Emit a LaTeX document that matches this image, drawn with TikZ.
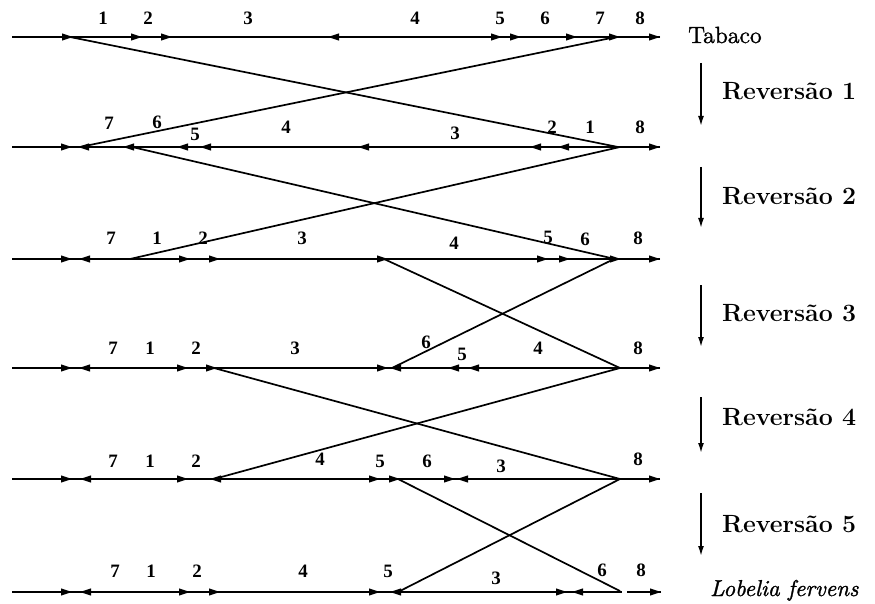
\documentclass[tikz,border=0pt]{standalone}
\usepackage{fontspec}
\newfontfamily\numfont{Liberation Serif}
\newfontfamily\heavyrm[FakeBold=1.2]{lmroman10-regular.otf}
\newfontfamily\heavyit[FakeBold=1.2]{lmroman10-italic.otf}
\usetikzlibrary{arrows.meta}
\tikzset{
  chrom/.style={line width=1.4bp},
  cross/.style={line width=1.7bp},
  num/.style={font=\numfont\bfseries\fontsize{19}{19}\selectfont, inner sep=0pt},
  rlab/.style={font=\fontsize{25}{28}\selectfont, anchor=base west, inner sep=0pt},
  rh/.pic={\fill (0,0) -- (-11,-3.6) -- (-11,3.6) -- cycle;},
  lh/.pic={\fill (0,0) -- (11,-3.6) -- (11,3.6) -- cycle;},
  revarrow/.style={line width=1.6bp, -{Latex[length=10bp,width=6bp]}}
}
\begin{document}
\begin{tikzpicture}[x=1bp,y=-1bp]
\useasboundingbox (0,0) rectangle (875,604);
% ---------- row 1 (Tabaco)
\coordinate (r1s) at (12,37); \coordinate (r1e) at (660,37);
\draw[chrom] (r1s) -- (r1e);
\foreach \x in {73,142,172,502,521,577,620,660} \pic at (\x,37) {rh};
\pic at (328,37) {lh};
\foreach \t/\x in {1/103,2/148,3/248,4/415,5/500,6/545,7/600,8/640}
  \node[num] (l1-\t) at (\x,18) {\t};
% ---------- row 2
\coordinate (r2s) at (12,147); \coordinate (r2e) at (660,147);
\draw[chrom] (r2s) -- (r2e);
\foreach \x in {72,660} \pic at (\x,147) {rh};
\foreach \x in {78,123,177,200,358,530,558} \pic at (\x,147) {lh};
\foreach \t/\x/\y in {7/109/123,6/157/122,5/195/134,4/286/127,3/455/133,2/552/127,1/590/127,8/640/127}
  \node[num] (l2-\t) at (\x,\y) {\t};
% ---------- row 3
\coordinate (r3s) at (12,259); \coordinate (r3e) at (660,259);
\draw[chrom] (r3s) -- (r3e);
\foreach \x in {72,190,220,388,548,570,621,660} \pic at (\x,259) {rh};
\pic at (79,259) {lh};
\foreach \t/\x/\y in {7/111/238,1/157/238,2/203/238,3/302/238,4/454/243,5/548/237,6/585/239,8/638/238}
  \node[num] (l3-\t) at (\x,\y) {\t};
% ---------- row 4
\coordinate (r4s) at (12,368); \coordinate (r4e) at (660,368);
\draw[chrom] (r4s) -- (r4e);
\foreach \x in {72,188,217,388,660} \pic at (\x,368) {rh};
\foreach \x in {79,390,448,468} \pic at (\x,368) {lh};
\foreach \t/\x/\y in {7/113/348,1/150/348,2/196/348,3/295/348,6/426/342,5/462/354,4/538/348,8/638/348}
  \node[num] (l4-\t) at (\x,\y) {\t};
% ---------- row 5
\coordinate (r5s) at (12,479); \coordinate (r5e) at (660,479);
\draw[chrom] (r5s) -- (r5e);
\foreach \x in {72,188,380,400,455,660} \pic at (\x,479) {rh};
\foreach \x in {80,210,457} \pic at (\x,479) {lh};
\foreach \t/\x/\y in {7/113/461,1/150/461,2/196/461,4/320/459,5/380/461,6/427/461,3/501/466,8/638/459}
  \node[num] (l5-\t) at (\x,\y) {\t};
% ---------- row 6 (Lobelia fervens)
\coordinate (r6s) at (12,592); \coordinate (r6m) at (622,592);
\coordinate (r6n) at (627,592); \coordinate (r6e) at (661,592);
\draw[chrom] (r6s) -- (r6m);
\draw[chrom] (r6n) -- (r6e);
\foreach \x in {72,190,220,380,567,661} \pic at (\x,592) {rh};
\foreach \x in {80,390,572} \pic at (\x,592) {lh};
\foreach \t/\x/\y in {7/115/571,1/151/571,2/197/571,4/303/571,5/388/571,3/496/578,6/602/570,8/641/570}
  \node[num] (l6-\t) at (\x,\y) {\t};
% ---------- crossing segments
\coordinate (a1) at (70,37);  \coordinate (b1) at (618,147);
\coordinate (c1) at (616,37); \coordinate (d1) at (80,147);
\draw[cross] (a1) -- (b1); \draw[cross] (c1) -- (d1);
\coordinate (a2) at (132,147); \coordinate (b2) at (615,259);
\coordinate (c2) at (620,147); \coordinate (d2) at (130,259);
\draw[cross] (a2) -- (b2); \draw[cross] (c2) -- (d2);
\coordinate (a3) at (384,259); \coordinate (b3) at (620,368);
\coordinate (c3) at (614,259); \coordinate (d3) at (392,368);
\draw[cross] (a3) -- (b3); \draw[cross] (c3) -- (d3);
\coordinate (a4) at (214,368); \coordinate (b4) at (620,479);
\coordinate (c4) at (620,368); \coordinate (d4) at (214,479);
\draw[cross] (a4) -- (b4); \draw[cross] (c4) -- (d4);
\coordinate (a5) at (398,479); \coordinate (b5) at (620,591);
\coordinate (c5) at (620,479); \coordinate (d5) at (398,592);
\draw[cross] (a5) -- (b5); \draw[cross] (c5) -- (d5);
% ---------- reversal arrows and labels
\node[rlab, font=\heavyrm\fontsize{23.5}{28}\selectfont] (tab) at (688,43) {Tabaco};
\node[rlab, font=\heavyit\fontsize{23}{28}\selectfont] (lob) at (710,596) {Lobelia fervens};
\foreach \k/\ys/\ye/\yb in {1/63/126/100,2/167/228/205,3/285/347/321,4/397/453/425,5/493/556/532}{
  \coordinate (u\k) at (701,\ys); \coordinate (v\k) at (701,\ye);
  \draw[revarrow] (u\k) -- (v\k);
  \node[rlab] (rev\k) at (722,\yb) {\bfseries Reversão \k};
}
\end{tikzpicture}
\end{document}
